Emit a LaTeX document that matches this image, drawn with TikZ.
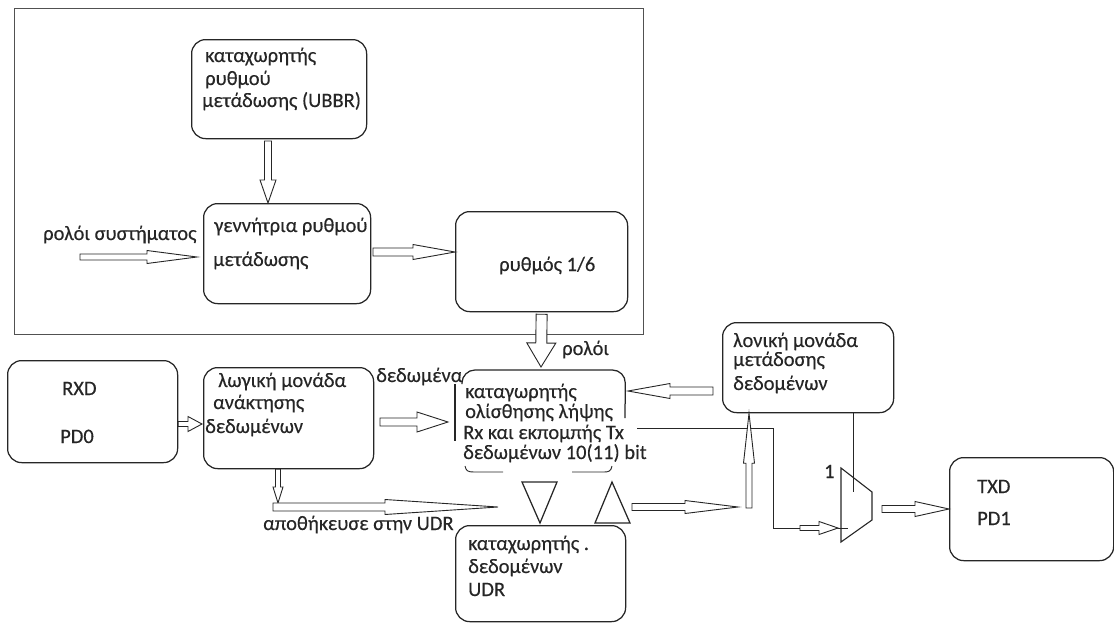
\documentclass[tikz,border=0pt]{standalone}
\usepackage{fontspec}
\setmainfont{Carlito}
\newfontfamily\labelfont{Carlito}[FakeBold=0.35]
\usetikzlibrary{calc}
\definecolor{ink}{HTML}{262626}
\begin{document}
\begin{tikzpicture}[x=1pt,y=-1pt,
  box/.style={draw=ink, line width=1.25pt, rounded corners=14pt, anchor=north west, inner sep=0pt},
  txt/.style={anchor=base west, inner sep=0pt, text=ink, font=\labelfont\fontsize{20.5}{24}\selectfont},
  % hollow block arrow: shaft half-width, head half-width, head length
  blk/.style n args={3}{draw=ink, fill=white, line width=0.9pt, line join=miter,
    to path={let \p1=($(\tikztotarget)!#3!(\tikztostart)$) in
      ($(\tikztostart)!#1!90:(\tikztotarget)$) -- ($(\p1)!#1!90:(\tikztotarget)$)
      -- ($(\p1)!#2!90:(\tikztotarget)$) -- (\tikztotarget)
      -- ($(\p1)!#2!-90:(\tikztotarget)$) -- ($(\p1)!#1!-90:(\tikztotarget)$)
      -- ($(\tikztostart)!#1!-90:(\tikztotarget)$) -- cycle}},
  wire/.style={draw=ink, line width=0.9pt},
  outline/.style={draw=ink, line width=1.25pt, line join=miter}
]
\useasboundingbox (0,0) rectangle (1114,624);

% clock section frame
\node[draw=ink!80, line width=0.9pt, anchor=north west, inner sep=0pt,
      minimum width=629pt, minimum height=326pt] (frame) at (14,8) {};

% blocks
\node[box, minimum width=175pt, minimum height=99pt]  (ubbr)   at (191,39)  {};
\node[box, minimum width=167pt, minimum height=100pt] (gen)    at (203,203) {};
\node[box, minimum width=172pt, minimum height=100pt] (rhythm) at (455,211) {};
\node[box, minimum width=170pt, minimum height=102pt] (rxd)    at (7,360)   {};
\node[box, minimum width=170pt, minimum height=101pt] (logic)  at (203,367) {};
\node[anchor=north west, inner sep=0pt, minimum width=163pt, minimum height=102pt] (shift) at (462,370) {};
\node[box, minimum width=170pt, minimum height=96pt]  (udr)    at (455,525) {};
\node[box, minimum width=171pt, minimum height=90pt]  (txl)    at (722,322) {};
\node[box, minimum width=164pt, minimum height=103pt] (txd)    at (949,457) {};

% shift register outline (open at the bottom)
\draw[outline, rounded corners=13pt] (462,384) -- (shift.north west) -- (shift.north east) -- (625,418);
\draw[outline] (455,384) -- (455,441);
\draw[wire] (465,466) .. controls (466,471) and (468,472) .. (474,472) -- (503,472);
\draw[wire] (572,472) -- (604,472) .. controls (609,472) and (611,471) .. (612,466);

% direction triangles and small tick
\coordinate (tdown) at (540,523);
\coordinate (tup) at (612,482);
\draw[outline] (522,482) -- (557,482) -- (tdown) -- cycle;
\draw[outline] (595,523) -- (630,523) -- (tup) -- cycle;
\draw[wire] (572,525) -- (580,525);

% multiplexer
\coordinate (mA) at (841,468);
\coordinate (mB) at (872,492);
\coordinate (mC) at (872,520);
\coordinate (mD) at (841,542);
\draw[wire, line width=1.1pt, line join=miter] (mA) -- (mB) -- (mC) -- (mD) -- cycle;
\coordinate (muxin) at (848,528);
\coordinate (muxsel) at (853,492);
\coordinate (muxout) at (882,509);

% wires
\coordinate (sro) at (637,428);
\draw[wire] (sro) -- (773,428) -- (773,528) -- (muxin);
\draw[wire] (txl.south -| muxsel) -- (muxsel);

% block arrows
\draw[blk={3.5pt}{8pt}{23pt}] (268,141) to (gen.north -| 268,0);
\coordinate (clk) at (80,257);
\draw[blk={3pt}{6.5pt}{50pt}] (clk) to (197,257);
\draw[blk={4pt}{7.5pt}{42pt}] (373,252) to (rhythm.west |- 0,252);
\draw[blk={5.5pt}{14.5pt}{24pt}] ([yshift=-2pt]rhythm.south) to (541,367);
\draw[blk={2.5pt}{7.5pt}{14pt}] (rxd.east |- 0,424) to (202,424);
\draw[blk={4pt}{10pt}{31pt}] (380,422) to (448,422);
\draw[blk={2.5pt}{5pt}{16pt}] (logic.south -| 278,0) to (278,503);
\draw[blk={4pt}{7.5pt}{113pt}] (273,507) to (498,507);
\draw[blk={4pt}{7.5pt}{42pt}] (713,391) to (628,391);
\draw[blk={3.5pt}{6.5pt}{53pt}] (632,507) to (738,507);
\draw[blk={3pt}{5.5pt}{50pt}] (749,508) to (txl.south -| 749,0);
\draw[blk={2.5pt}{6.5pt}{19pt}] (800,528) to (838,528);
\draw[blk={3.5pt}{7.5pt}{34pt}] (muxout) to (txd.west |- muxout);

% labels
\node[txt] (l1) at (205,62)  {καταχωρητής};
\node[txt] (l2) at (205,85)  {ρυθμού};
\node[txt] (l3) at (202,107) {μετάδωσης (UBBR)};
\node[txt] (l4) at (214,232) {γεννήτρια ρυθμού};
\node[txt] (l5) at (213,266) {μετάδωσης};
\node[txt] (l6) at (43,240)  {ρολόι συστήματος};
\node[txt] (l7) at (499,271) {ρυθμός 1/6};
\node[txt] (l8) at (562,355) {ρολόι};
\node[txt] (l9) at (62,395)  {RXD};
\node[txt] (l10) at (60,443) {PD0};
\node[txt] (l11) at (218,387) {λωγική μονάδα};
\node[txt] (l12) at (213,409) {ανάκτησης};
\node[txt] (l13) at (205,433) {δεδωμένων};
\node[txt] (l14) at (376,382) {δεδωμένα};
\node[txt] (l15) at (465,398) {καταγωρητής};
\node[txt] (l16) at (465,418) {ολίσθησης λήψης};
\node[txt] (l17) at (463,439) {Rx και εκπομπής Tx};
\node[txt] (l18) at (463,459) {δεδωμένων 10(11) bit};
\node[txt] (l19) at (263,530) {αποθήκευσε στην UDR};
\node[txt] (l20) at (468,550) {καταχωρητής .};
\node[txt] (l21) at (468,573) {δεδομένων};
\node[txt] (l22) at (468,596) {UDR};
\node[txt] (l23) at (733,347) {λονική μονάδα};
\node[txt] (l24) at (733,366) {μετάδοσης};
\node[txt] (l25) at (733,390) {δεδομένων};
\node[txt] (l26) at (824,478) {1};
\node[txt] (l27) at (977,493) {TXD};
\node[txt] (l28) at (977,525) {PD1};
\end{tikzpicture}
\end{document}
